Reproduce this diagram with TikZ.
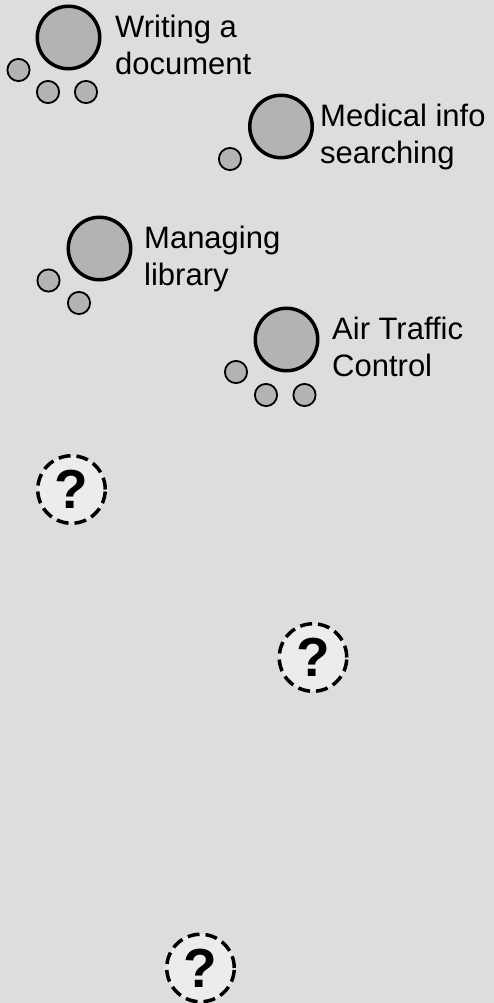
\documentclass[tikz,border=0pt]{standalone}
\usepackage{fontspec}
\setmainfont{Liberation Sans}
\definecolor{bgc}{RGB}{221,221,221}
\definecolor{cfill}{RGB}{179,179,179}
\definecolor{qfill}{RGB}{236,236,236}
\begin{document}
\begin{tikzpicture}[x=1pt,y=-1pt,
  big/.style={circle,draw=black,line width=3.5pt,fill=cfill,minimum size=62.5pt,inner sep=0pt},
  small/.style={circle,draw=black,line width=1.8pt,fill=cfill,minimum size=22.2pt,inner sep=0pt},
  lbl/.style={anchor=base west,align=left,inner sep=0pt,font=\fontsize{31}{37}\selectfont},
  qcirc/.style={circle,draw=black,line width=3.5pt,dash pattern=on 12pt off 6pt,fill=qfill,minimum size=67.5pt,inner sep=0pt,font=\fontsize{55}{55}\selectfont\bfseries}]
\fill[bgc] (0,0) rectangle (494,1003);
\useasboundingbox (0,0) rectangle (494,1003);
% Writing a document
\node[big] (w) at (68.5,37.5) {};
\node[small] (w1) at (18.5,70) {};
\node[small] (w2) at (48,92) {};
\node[small] (w3) at (86,92) {};
\node[lbl] (wt) at (115,74.5) {Writing a\\document};
% Medical info searching
\node[big] (m) at (281,126.5) {};
\node[small] (m1) at (230,159) {};
\node[lbl] (mt) at (320,163.5) {Medical info\\searching};
% Managing library
\node[big] (l) at (99.5,248.5) {};
\node[small] (l1) at (48.5,280.5) {};
\node[small] (l2) at (79,303) {};
\node[lbl] (lt) at (144,285.5) {Managing\\library};
% Air Traffic Control
\node[big] (a) at (286.5,339.5) {};
\node[small] (a1) at (236,372) {};
\node[small] (a2) at (266,395) {};
\node[small] (a3) at (304.5,395) {};
\node[lbl] (at) at (332,376) {Air Traffic\\Control};
% Question marks
\node[qcirc] (q1) at (71.5,489.5) {?};
\node[qcirc] (q2) at (313,657.5) {?};
\node[qcirc] (q3) at (200.5,968) {?};
\end{tikzpicture}
\end{document}
